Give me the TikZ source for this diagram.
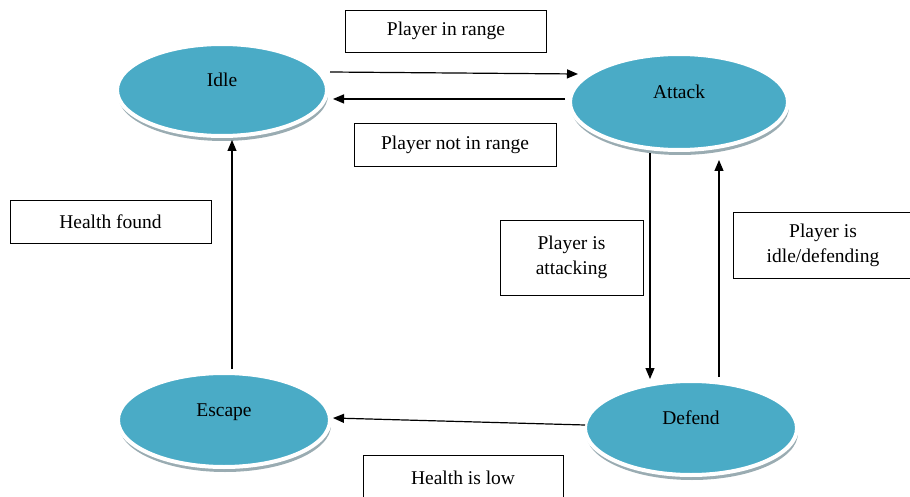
\documentclass[tikz,border=0pt]{standalone}
\usepackage{fontspec}
\setmainfont{Liberation Serif}
\usetikzlibrary{shapes.geometric,shadows,arrows.meta}
\definecolor{stateblue}{HTML}{4AABC6}
\definecolor{shadowgray}{HTML}{8FA3AA}
\tikzset{
  stateell/.style={ellipse, fill=stateblue, draw=white, line width=4pt,
    drop shadow={shadow xshift=1pt, shadow yshift=-5pt, fill=shadowgray, opacity=0.9},
    font=\fontsize{19.5}{22}\selectfont, inner sep=0pt},
  labelbox/.style={rectangle, draw=black, line width=0.9pt, align=center,
    font=\fontsize{19.5}{25}\selectfont, inner sep=2pt},
  trans/.style={-{Triangle[length=11pt,width=9pt]}, line width=1.2pt, black},
}
\begin{document}
\begin{tikzpicture}[x=1pt,y=-1pt]
\useasboundingbox (0,0) rectangle (910,497);
% states
\node[stateell, minimum width=210pt, minimum height=92pt] (idle) at (222,90) {\raisebox{21pt}{Idle}};
\node[stateell, minimum width=218pt, minimum height=96pt] (attack) at (679,102) {\raisebox{21pt}{Attack}};
\node[stateell, minimum width=212pt, minimum height=94pt] (escape) at (224,420) {\raisebox{19pt}{Escape}};
\node[stateell, minimum width=212pt, minimum height=94pt] (defend) at (691,428) {\raisebox{20pt}{Defend}};
% labels
\node[labelbox, minimum width=201pt, minimum height=42pt] (lin) at (446,31) {Player in range};
\node[labelbox, minimum width=202pt, minimum height=43pt] (lnot) at (455,145) {Player not in range};
\node[labelbox, minimum width=201pt, minimum height=43pt] (lhf) at (110.5,222) {Health found};
\node[labelbox, minimum width=143pt, minimum height=75pt] (latt) at (571.5,257.5) {Player is\\attacking};
\node[labelbox, minimum width=180pt, minimum height=66pt] (lidle) at (823,245) {Player is\\idle/defending};
\node[labelbox, minimum width=200pt, minimum height=46pt] (llow) at (463,478) {Health is low};
% transitions
\draw[trans] ([xshift=1pt,yshift=18pt]idle.east) -- ([xshift=10pt,yshift=28pt]attack.west);
\draw[trans] ([xshift=-3pt,yshift=3pt]attack.west) -- ([xshift=4pt,yshift=-9pt]idle.east);
\draw[trans] ([xshift=-29pt,yshift=-1pt]attack.south) -- ([xshift=-41pt,yshift=0pt]defend.north);
\draw[trans] ([xshift=28pt,yshift=2pt]defend.north) -- ([xshift=40pt,yshift=-8pt]attack.south);
\draw[trans] ([xshift=2pt,yshift=3pt]defend.west) -- ([xshift=1pt,yshift=2pt]escape.east);
\draw[trans] ([xshift=8pt,yshift=2pt]escape.north) -- ([xshift=10pt,yshift=-2pt]idle.south);
\end{tikzpicture}
\end{document}
